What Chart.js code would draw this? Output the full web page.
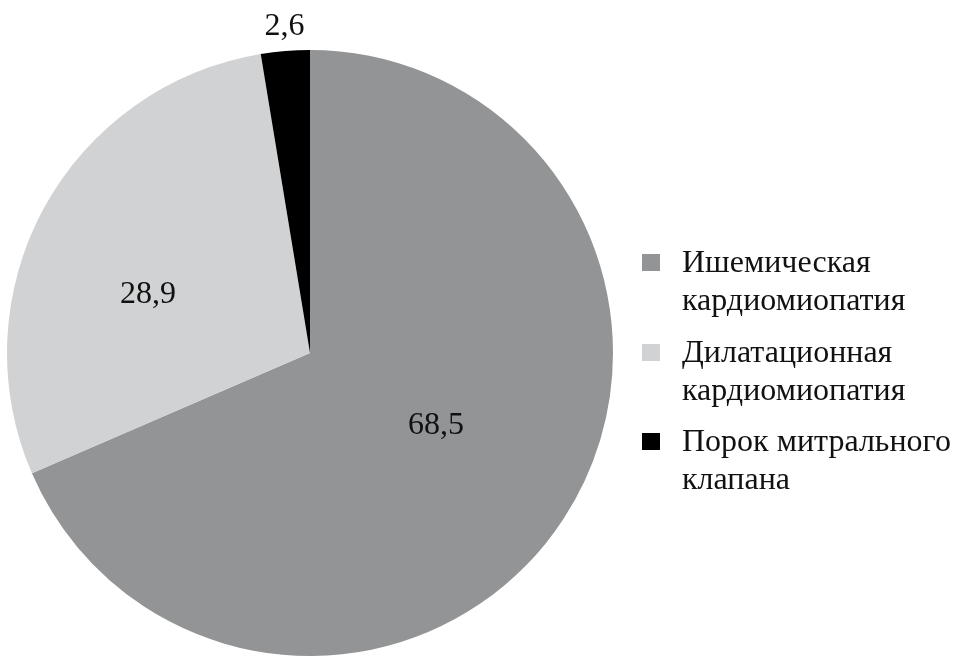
<!DOCTYPE html>
<html>
<head>
<meta charset="utf-8">
<script src="https://cdn.jsdelivr.net/npm/chart.js@4/dist/chart.umd.min.js"></script>
<style>
  html, body { margin: 0; padding: 0; background: #fff; }
  #wrap { position: relative; width: 961px; height: 664px; }
  #c { position: absolute; left: 0; top: 0; }
  #legend { position: absolute; left: 642px; top: 242px; font-family: "Liberation Serif", "Times New Roman", serif; font-size: 32px; color: #111; white-space: nowrap; }
  .item { position: relative; padding-left: 40px; line-height: 38px; height: 76px; margin-bottom: 13.5px; }
  .sw { position: absolute; left: 0; top: 12px; width: 18px; height: 17px; }
</style>
</head>
<body>
<div id="wrap">
  <canvas id="c" width="961" height="664"></canvas>
  <div id="legend"></div>
</div>
<script>
const categories = ["Ишемическая кардиомиопатия", "Дилатационная кардиомиопатия", "Порок митрального клапана"];
const legendLines = [["Ишемическая", "кардиомиопатия"], ["Дилатационная", "кардиомиопатия"], ["Порок митрального", "клапана"]];
const values = [68.5, 28.9, 2.6];
const valueLabels = ["68,5", "28,9", "2,6"];
const colors = ["#939495", "#d1d2d3", "#000000"];

// label placement: radius fraction and angle shift (degrees) relative to slice mid-angle
const labelRadius = [0.481, 0.568, 1.08];
const labelShift = [-3.2, -8.9, 0.2];

const labelPlugin = {
  id: 'sliceLabels',
  afterDatasetsDraw(chart) {
    const ctx = chart.ctx;
    const meta = chart.getDatasetMeta(0);
    ctx.save();
    ctx.font = '32px "Liberation Serif", serif';
    ctx.fillStyle = '#111';
    ctx.textAlign = 'center';
    ctx.textBaseline = 'middle';
    meta.data.forEach((arc, i) => {
      const p = arc.getProps(['x', 'y', 'startAngle', 'endAngle', 'outerRadius'], true);
      const mid = (p.startAngle + p.endAngle) / 2 + labelShift[i] * Math.PI / 180;
      const r = p.outerRadius * labelRadius[i];
      ctx.fillText(valueLabels[i], p.x + Math.cos(mid) * r, p.y + Math.sin(mid) * r);
    });
    ctx.restore();
  }
};

new Chart(document.getElementById('c'), {
  type: 'pie',
  data: {
    labels: categories,
    datasets: [{ data: values, backgroundColor: colors, borderWidth: 0 }]
  },
  options: {
    responsive: false,
    animation: false,
    layout: { padding: { left: 7, top: 50, right: 348, bottom: 8 } },
    plugins: { legend: { display: false }, tooltip: { enabled: false } }
  },
  plugins: [labelPlugin]
});

const lg = document.getElementById('legend');
legendLines.forEach((lines, i) => {
  const d = document.createElement('div');
  d.className = 'item';
  const sw = document.createElement('span');
  sw.className = 'sw';
  sw.style.background = colors[i];
  d.appendChild(sw);
  lines.forEach((t, k) => {
    if (k) d.appendChild(document.createElement('br'));
    d.appendChild(document.createTextNode(t));
  });
  lg.appendChild(d);
});
</script>
</body>
</html>
